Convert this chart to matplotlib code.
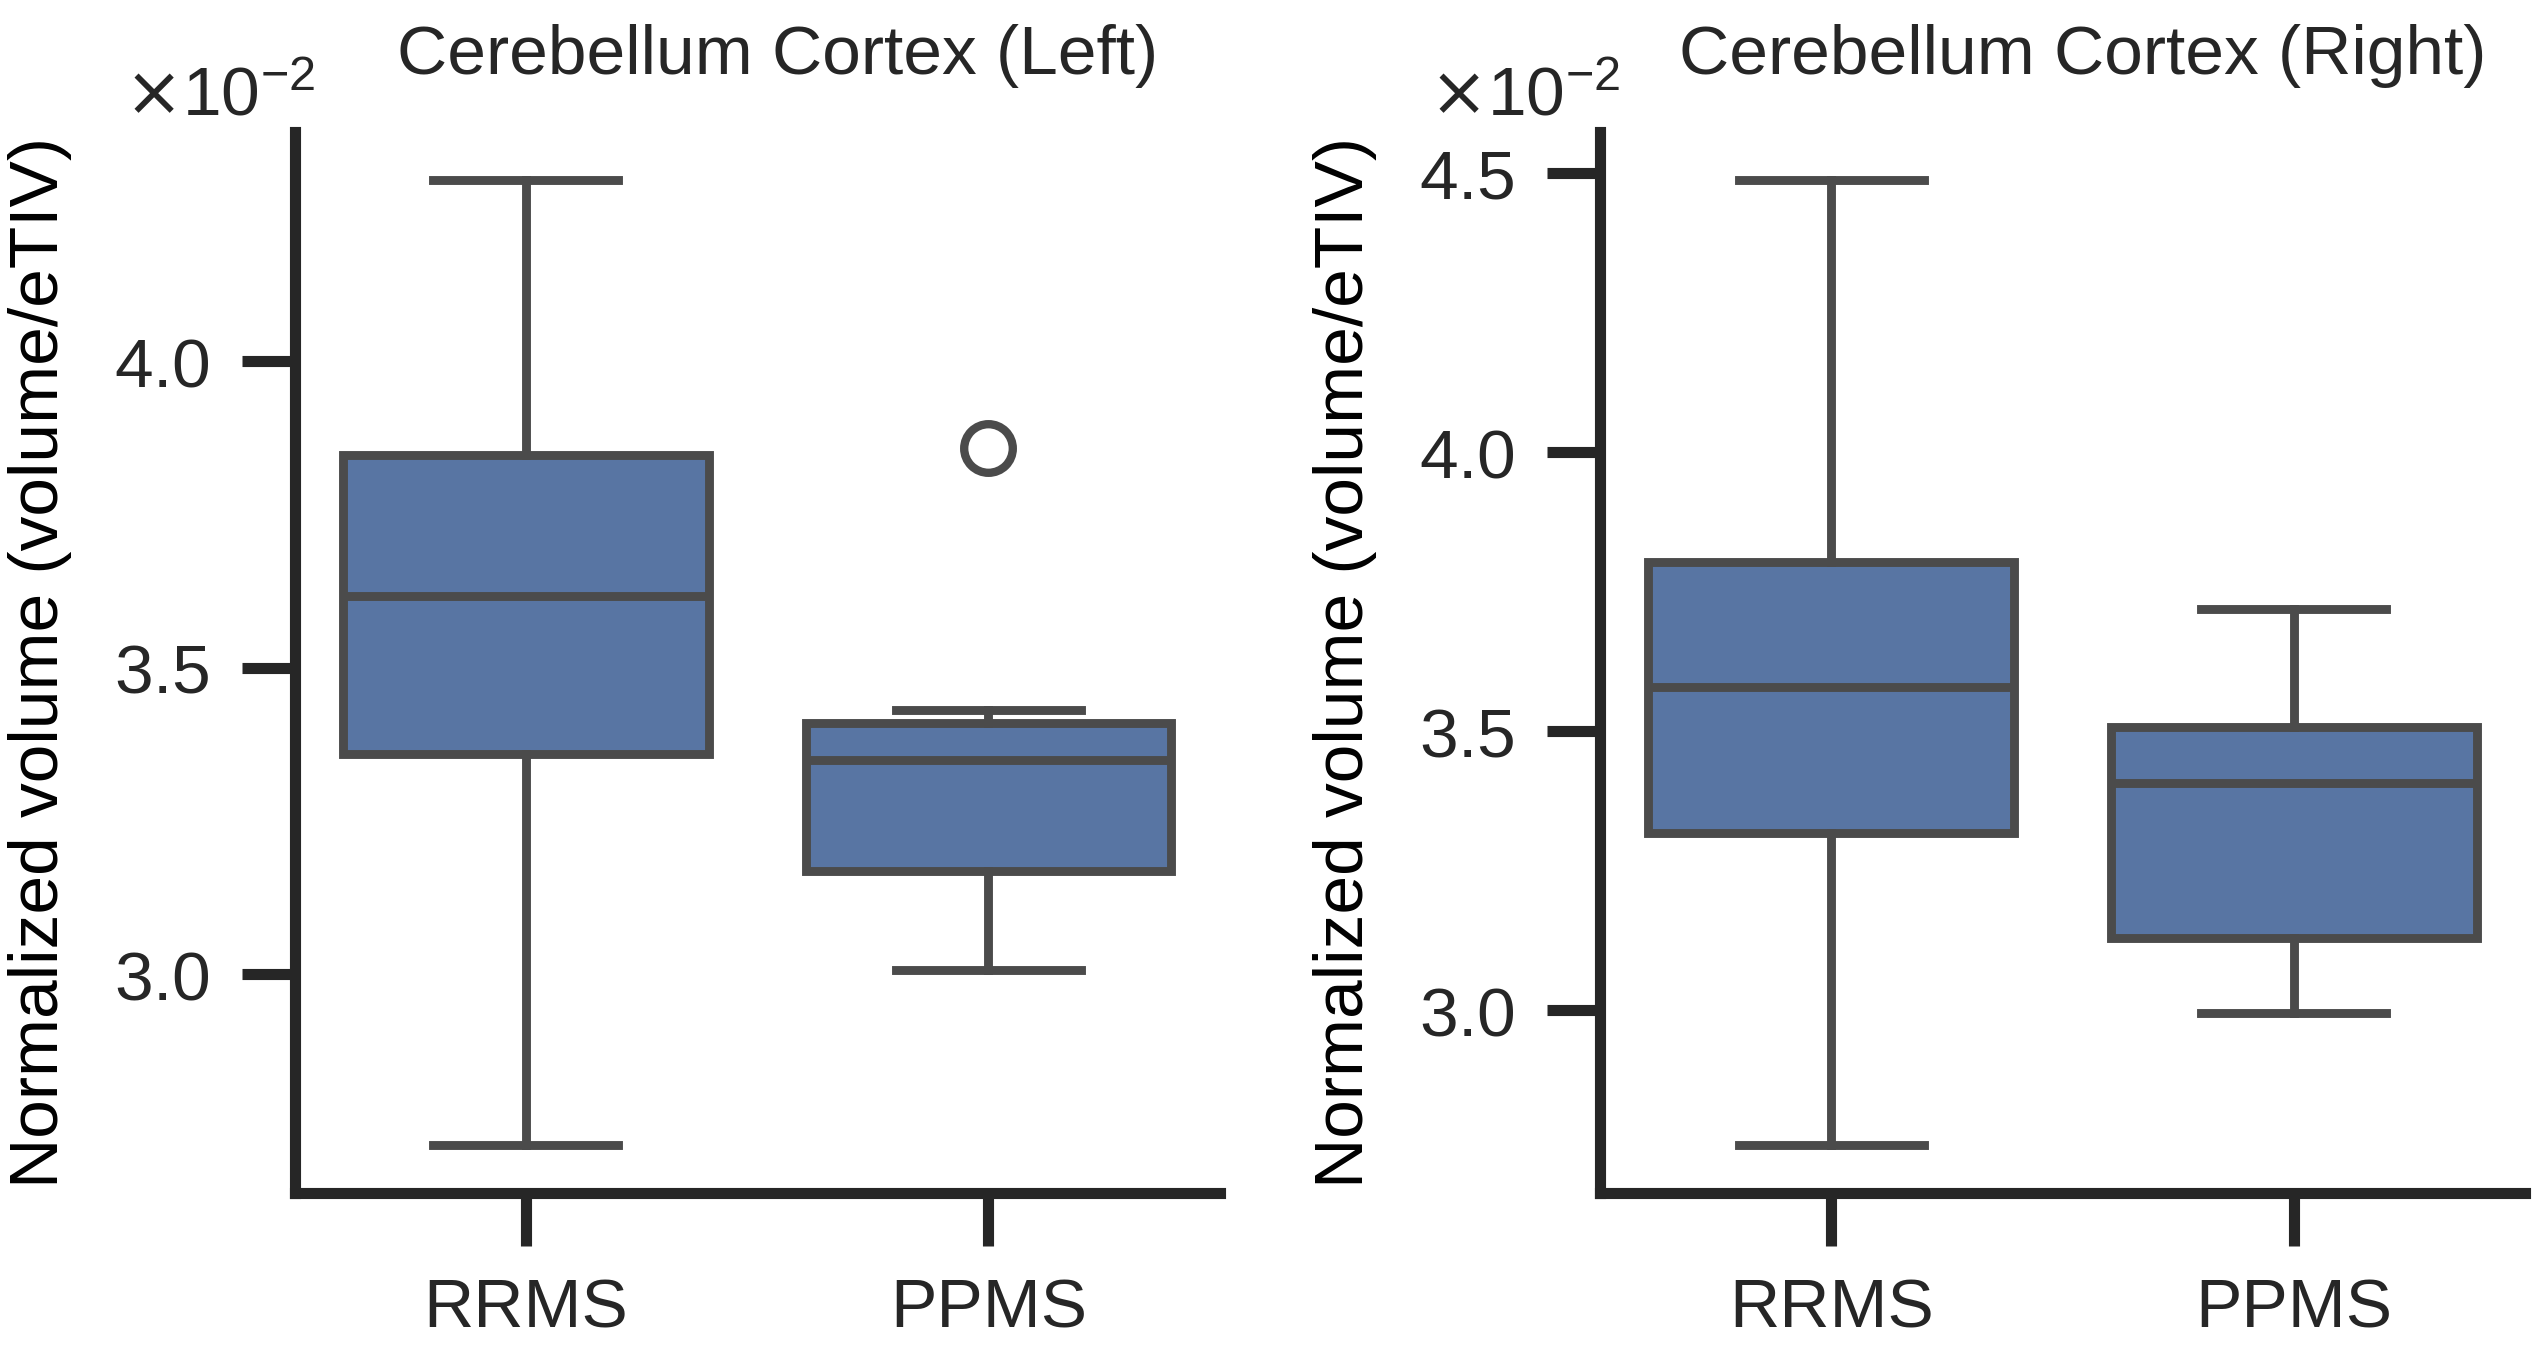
import matplotlib
matplotlib.use("Agg")
import matplotlib.pyplot as plt
from matplotlib.ticker import MultipleLocator, ScalarFormatter

# ---------------------------------------------------------------
# data (volume / eTIV)
groups = ["RRMS", "PPMS"]

left_whislo = [2.722e-2, 3.007e-2]
left_q1 = [3.359e-2, 3.168e-2]
left_med = [3.617e-2, 3.349e-2]
left_q3 = [3.846e-2, 3.410e-2]
left_whishi = [4.295e-2, 3.431e-2]
left_fliers = [[], [3.858e-2]]

right_whislo = [2.759e-2, 2.995e-2]
right_q1 = [3.318e-2, 3.129e-2]
right_med = [3.580e-2, 3.408e-2]
right_q3 = [3.803e-2, 3.508e-2]
right_whishi = [4.488e-2, 3.720e-2]
right_fliers = [[], []]

titles = ["Cerebellum Cortex (Left)", "Cerebellum Cortex (Right)"]
ylabel = "Normalized volume (volume/eTIV)"

# ---------------------------------------------------------------
DARK = '#262626'
LINE = '#4b4b4b'
FILL = '#5875a3'
FS = 25
LW = 3.2

plt.rcParams['font.family'] = ['Liberation Sans', 'DejaVu Sans']
plt.rcParams['xtick.labelsize'] = FS
plt.rcParams['ytick.labelsize'] = FS
plt.rcParams['axes.labelsize'] = FS
plt.rcParams['axes.titlesize'] = FS


def make_stats(whislo, q1, med, q3, whishi, fliers):
    stats = []
    for i in range(len(groups)):
        stats.append(dict(label=groups[i], whislo=whislo[i], q1=q1[i], med=med[i],
                          q3=q3[i], whishi=whishi[i], fliers=fliers[i]))
    return stats


def draw_panel(ax, stats, title):
    ax.bxp(stats, positions=range(len(groups)), widths=0.79, capwidths=0.4,
           patch_artist=True, manage_ticks=False,
           boxprops=dict(facecolor=FILL, edgecolor=LINE, linewidth=LW),
           whiskerprops=dict(color=LINE, linewidth=LW),
           capprops=dict(color=LINE, linewidth=LW),
           medianprops=dict(color=LINE, linewidth=LW),
           flierprops=dict(marker='o', markerfacecolor='none', markeredgecolor=LINE,
                           markersize=17.5, markeredgewidth=3.0))
    ax.set_xlim(-0.5, len(groups) - 0.5)
    ax.set_xticks(range(len(groups)))
    ax.set_xticklabels(groups)

    ax.yaxis.set_major_locator(MultipleLocator(0.005))
    fmt = ScalarFormatter(useMathText=True)
    fmt.set_powerlimits((0, 0))
    ax.yaxis.set_major_formatter(fmt)

    for side in ['top', 'right']:
        ax.spines[side].set_visible(False)
    for side in ['left', 'bottom']:
        ax.spines[side].set_linewidth(4)
        ax.spines[side].set_color(DARK)
    ax.tick_params(length=19, width=4, pad=11.5, labelsize=FS,
                   color=DARK, labelcolor=DARK)

    ax.set_ylabel(ylabel, fontsize=FS, color='black')
    ax.yaxis.set_label_coords(-0.241, 0.5)
    ax.set_title(title, fontsize=FS, color=DARK, x=0.522, y=1.0547, pad=0)


fig = plt.figure(figsize=(12.73, 6.75), dpi=200)
ax1 = fig.add_axes([0.1157, 0.1163, 0.3634, 0.786])
ax2 = fig.add_axes([0.6284, 0.1163, 0.3634, 0.786])

draw_panel(ax1, make_stats(left_whislo, left_q1, left_med, left_q3, left_whishi, left_fliers), titles[0])
draw_panel(ax2, make_stats(right_whislo, right_q1, right_med, right_q3, right_whishi, right_fliers), titles[1])

# the x10^-2 offset label, sized like the tick labels
fig.canvas.draw()
for ax in [ax1, ax2]:
    off = ax.yaxis.get_offset_text()
    off.set_fontsize(FS)
    off.set_color(DARK)
    off.set_horizontalalignment('right')
    off.set_x(0.022)
    ax.yaxis.OFFSETTEXTPAD = 6

fig.savefig("out.png", dpi=200)
